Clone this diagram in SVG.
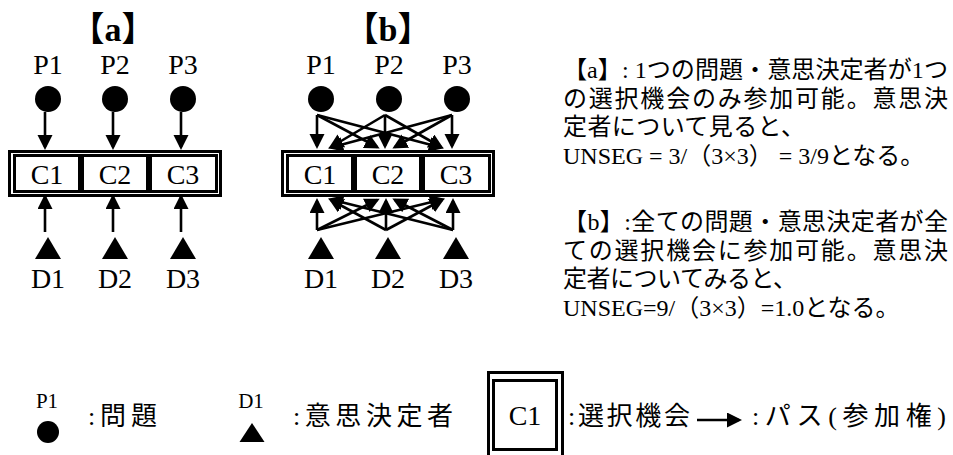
<svg xmlns="http://www.w3.org/2000/svg" width="953" height="455" viewBox="0 0 953 455">
<style>
text{font-family:'Liberation Serif','Noto Sans CJK JP',serif;fill:#000}
.lbl{font-size:28px;text-anchor:middle}
.ttl{font-size:34px;font-weight:bold;text-anchor:middle}
.body{font-size:24px}
.leg{font-size:26px}
.small{font-size:21px;text-anchor:middle}
.conn line{stroke:#000;stroke-width:2.6;marker-end:url(#ah)}
.box{fill:none;stroke:#000;stroke-width:3}
</style>
<defs>
<marker id="ah" markerUnits="userSpaceOnUse" markerWidth="16" markerHeight="16" refX="12" refY="7.5" orient="auto">
<path d="M0,0 L15,7.5 L0,15 Z" fill="#000"/>
</marker>
</defs>
<rect width="953" height="455" fill="#fff"/>

<!-- (a) -->
<text class="ttl" x="113" y="41">【a】</text>
<g id="a-P1"><text class="lbl" x="48" y="74">P1</text><circle cx="48" cy="99" r="13"/></g>
<g id="a-P2"><text class="lbl" x="115" y="74">P2</text><circle cx="115" cy="99" r="13"/></g>
<g id="a-P3"><text class="lbl" x="183" y="74">P3</text><circle cx="183" cy="99" r="13"/></g>
<rect class="box" x="9.5" y="151.5" width="211" height="44"/>
<g id="a-C1"><rect class="box" x="14.5" y="155.5" width="65" height="36"/><text class="lbl" x="47" y="184">C1</text></g>
<g id="a-C2"><rect class="box" x="82.5" y="155.5" width="65" height="36"/><text class="lbl" x="115" y="184">C2</text></g>
<g id="a-C3"><rect class="box" x="150.5" y="155.5" width="66" height="36"/><text class="lbl" x="183" y="184">C3</text></g>
<g id="a-D1"><path d="M48,237 L61,259 L35,259 Z"/><text class="lbl" x="48" y="288">D1</text></g>
<g id="a-D2"><path d="M115,237 L128,259 L102,259 Z"/><text class="lbl" x="115" y="288">D2</text></g>
<g id="a-D3"><path d="M183,237 L196,259 L170,259 Z"/><text class="lbl" x="183" y="288">D3</text></g>
<g id="a-connectors" class="conn">
<line x1="45" y1="112" x2="45" y2="147"/>
<line x1="113" y1="112" x2="113" y2="147"/>
<line x1="181" y1="112" x2="181" y2="147"/>
<line x1="45" y1="232" x2="45" y2="197"/>
<line x1="113" y1="232" x2="113" y2="197"/>
<line x1="181" y1="232" x2="181" y2="197"/>
</g>

<!-- (b) -->
<text class="ttl" x="388" y="41">【b】</text>
<g id="b-P1"><text class="lbl" x="321" y="74">P1</text><circle cx="321" cy="99" r="13"/></g>
<g id="b-P2"><text class="lbl" x="389" y="74">P2</text><circle cx="389" cy="99" r="13"/></g>
<g id="b-P3"><text class="lbl" x="457" y="74">P3</text><circle cx="457" cy="99" r="13"/></g>
<rect class="box" x="282.5" y="151.5" width="211" height="44"/>
<g id="b-C1"><rect class="box" x="287.5" y="155.5" width="65" height="36"/><text class="lbl" x="320" y="184">C1</text></g>
<g id="b-C2"><rect class="box" x="355.5" y="155.5" width="65" height="36"/><text class="lbl" x="388" y="184">C2</text></g>
<g id="b-C3"><rect class="box" x="423.5" y="155.5" width="66" height="36"/><text class="lbl" x="456" y="184">C3</text></g>
<g id="b-D1"><path d="M321,237 L334,259 L308,259 Z"/><text class="lbl" x="321" y="288">D1</text></g>
<g id="b-D2"><path d="M388,237 L401,259 L375,259 Z"/><text class="lbl" x="388" y="288">D2</text></g>
<g id="b-D3"><path d="M456,237 L469,259 L443,259 Z"/><text class="lbl" x="456" y="288">D3</text></g>
<g id="b-connectors" class="conn">
<line x1="317" y1="115" x2="317" y2="146"/>
<line x1="317" y1="115" x2="377" y2="147"/>
<line x1="317" y1="115" x2="441" y2="147.5"/>
<line x1="385" y1="115" x2="331" y2="147"/>
<line x1="385" y1="115" x2="385" y2="146"/>
<line x1="385" y1="115" x2="441" y2="147"/>
<line x1="452" y1="115" x2="331" y2="147.5"/>
<line x1="452" y1="115" x2="395" y2="147"/>
<line x1="452" y1="115" x2="452" y2="146"/>
<line x1="317" y1="230" x2="317" y2="201"/>
<line x1="317" y1="230" x2="377" y2="200"/>
<line x1="317" y1="230" x2="442" y2="199.5"/>
<line x1="386" y1="230" x2="331" y2="200"/>
<line x1="386" y1="230" x2="386" y2="201"/>
<line x1="386" y1="230" x2="442" y2="200"/>
<line x1="453" y1="230" x2="331" y2="199.5"/>
<line x1="453" y1="230" x2="395" y2="200"/>
<line x1="453" y1="230" x2="453" y2="201"/>
</g>

<!-- explanation -->
<g id="explanation" class="body">
<text x="563" y="78" textLength="385" lengthAdjust="spacingAndGlyphs">【a】: 1つの問題・意思決定者が1つ</text>
<text x="563" y="106.5" textLength="385" lengthAdjust="spacing">の選択機会のみ参加可能。意思決</text>
<text x="563" y="135" textLength="242" lengthAdjust="spacing">定者について見ると、</text>
<text x="563" y="163.5">UNSEG = 3/（3×3） = 3/9となる。</text>
<text x="563" y="230" textLength="385" lengthAdjust="spacing">【b】:全ての問題・意思決定者が全</text>
<text x="563" y="258.5" textLength="385" lengthAdjust="spacing">ての選択機会に参加可能。意思決</text>
<text x="563" y="287" textLength="234" lengthAdjust="spacing">定者についてみると、</text>
<text x="563" y="315.5">UNSEG=9/（3×3）=1.0となる。</text>
</g>

<!-- legend -->
<g id="legend-P"><text class="small" x="47" y="408">P1</text><circle cx="48" cy="432" r="11"/><text class="leg" x="88" y="425" textLength="69" lengthAdjust="spacing">:問題</text></g>
<g id="legend-D"><text class="small" x="251" y="408">D1</text><path d="M252,423 L264.5,442 L239.5,442 Z"/><text class="leg" x="293" y="425" textLength="160" lengthAdjust="spacing">:意思決定者</text></g>
<g id="legend-C"><rect class="box" x="488.5" y="372.5" width="74" height="90"/><rect class="box" x="493.5" y="380.5" width="63" height="69"/><text class="lbl" x="525" y="425">C1</text><text class="leg" x="568" y="425" textLength="122" lengthAdjust="spacing">:選択機会</text></g>
<g id="legend-conn" class="conn"><line x1="697" y1="420" x2="739" y2="420"/></g>
<g id="legend-path"><text class="leg" x="752" y="425" textLength="194" lengthAdjust="spacing">:パス(参加権)</text></g>
</svg>
